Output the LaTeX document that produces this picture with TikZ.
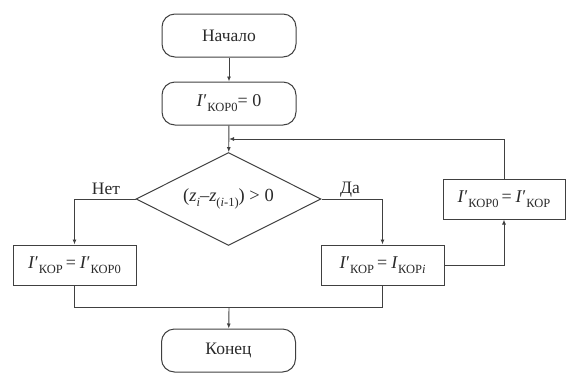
\documentclass[tikz,border=0pt]{standalone}
\usepackage{fontspec}
\setmainfont{Liberation Serif}
\usetikzlibrary{shapes.geometric,arrows.meta}
\definecolor{ln}{HTML}{404040}
\definecolor{tx}{HTML}{2A2A2A}
\newcommand{\Ip}{\textit{I}′}
\newcommand{\lowsub}[1]{\raisebox{-5pt}{\fontsize{12.5}{13}\selectfont #1}}
\newcommand{\dsub}[1]{\raisebox{-4.5pt}{\fontsize{12.5}{13}\selectfont #1}}
\newcommand{\eqs}{\hspace{3pt}=\hspace{4pt}}
\begin{document}
\begin{tikzpicture}[x=1pt,y=-1pt,
  every node/.style={font=\fontsize{17.5}{19}\selectfont, text=tx},
  formula/.style={font=\fontsize{18}{20}\selectfont},
  term/.style={draw=ln, line width=1pt, rounded corners=13pt, minimum width=134pt, minimum height=43pt, inner sep=0pt},
  proc/.style={draw=ln, line width=1pt, minimum width=123pt, minimum height=40pt, inner sep=0pt, formula},
  decision/.style={draw=ln, line width=1pt, diamond, shape aspect=2, minimum width=185pt, minimum height=93pt, inner sep=0pt, font=\fontsize{18.5}{20}\selectfont},
  conn/.style={draw=ln, line width=0.9pt},
  arr/.style={conn, -{Latex[length=5pt,width=4pt]}},
  lbl/.style={inner sep=0pt}
]
\useasboundingbox (0,0) rectangle (566,373);
\node[term] (start) at (229,35.5) {Начало};
\node[term, formula] (init) at (229,103.5) {\Ip\lowsub{КОР0}= 0};
\node[decision] (cond) at (228.5,199) {(\textit{z}\dsub{\textit{i}}–\textit{z}\dsub{(\textit{i}-1)}) > 0};
\node[proc] (left) at (74.5,265) {\Ip\lowsub{КОР}\eqs\Ip\lowsub{КОР0}};
\node[proc] (right) at (382.5,265) {\Ip\lowsub{КОР}\eqs\textit{I}\lowsub{КОР\textit{i}}};
\node[proc, minimum width=122pt] (up) at (504,199) {\Ip\lowsub{КОР0}\eqs\Ip\lowsub{КОР}};
\node[term] (end) at (228.5,350.5) {Конец};
\coordinate (loop) at (229,139);
\coordinate (m) at (229,307);
\draw[arr] (start) -- (init);
\draw[arr] (init) -- (cond);
\draw[arr] (cond.west) -| (left.north);
\draw[arr] (cond.east) -| (right.north);
\draw[arr] (right.east) -| (up.south);
\draw[arr] (up.north) |- (loop);
\draw[conn] (left.south) |- (m);
\draw[conn] (right.south) |- (m);
\draw[arr] (m) -- (end);
\node[lbl] (no) at (106,189) {Нет};
\node[lbl] (yes) at (350,190) {Да};
\end{tikzpicture}
\end{document}
